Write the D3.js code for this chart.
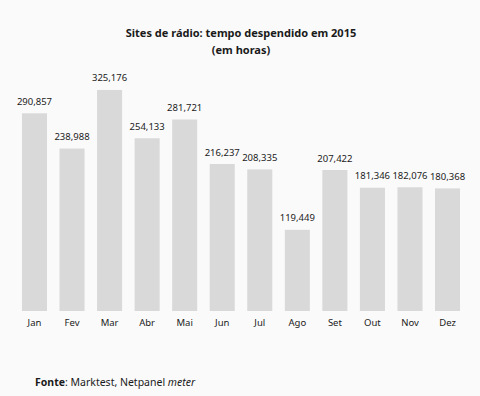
<!DOCTYPE html>
<html>
<head>
<meta charset="utf-8">
<script src="https://cdn.jsdelivr.net/npm/d3@7"></script>
<style>
  html, body { margin: 0; padding: 0; background: #fafafa; }
  svg { display: block; }
  text { font-family: "Noto Sans", "Open Sans", sans-serif; fill: #1a1a1a; }
</style>
</head>
<body>
<svg id="chart" width="480" height="396"></svg>
<script>
const months = ["Jan","Fev","Mar","Abr","Mai","Jun","Jul","Ago","Set","Out","Nov","Dez"];
const hours = [290857, 238988, 325176, 254133, 281721, 216237, 208335, 119449, 207422, 181346, 182076, 180368];
const titleLines = ["Sites de rádio: tempo despendido em 2015", "(em horas)"];

const svg = d3.select("#chart");
svg.append("rect").attr("width", 480).attr("height", 396).attr("fill", "#fafafa");

const x = d3.scaleBand().domain(months).range([15.7, 466.3]).paddingInner(0.333).paddingOuter(0.1665);
const y = d3.scaleLinear().domain([0, 350000]).range([311, 73.1]);
const fmt = d3.format(",");

const data = months.map((m, i) => ({ m, v: hours[i] }));

svg.append("g").selectAll("rect").data(data).join("rect")
  .attr("x", d => x(d.m))
  .attr("width", x.bandwidth())
  .attr("y", d => y(d.v))
  .attr("height", d => y(0) - y(d.v))
  .attr("fill", "#d9d9d9");

svg.append("g").selectAll("text").data(data).join("text")
  .attr("x", d => x(d.m) + x.bandwidth() / 2)
  .attr("y", d => y(d.v) - 8.5)
  .attr("text-anchor", "middle")
  .attr("font-size", 9.5)
  .text(d => fmt(d.v));

const xAxis = svg.append("g").attr("transform", "translate(0,311)")
  .call(d3.axisBottom(x).tickSize(0).tickPadding(8));
xAxis.select(".domain").remove();
xAxis.selectAll("text").attr("font-size", 9.5).attr("font-family", "'Noto Sans', sans-serif").attr("fill", "#1a1a1a");

svg.append("g").selectAll("text").data(titleLines).join("text")
  .attr("x", 241)
  .attr("y", (d, i) => 37 + i * 17)
  .attr("text-anchor", "middle")
  .attr("font-size", 11)
  .attr("font-weight", "bold")
  .text(d => d);

const src = svg.append("text").attr("x", 35).attr("y", 386).attr("font-size", 10.5);
src.append("tspan").attr("font-weight", "bold").text("Fonte");
src.append("tspan").text(": Marktest, Netpanel ");
src.append("tspan").attr("font-style", "italic").text("meter");
</script>
</body>
</html>
